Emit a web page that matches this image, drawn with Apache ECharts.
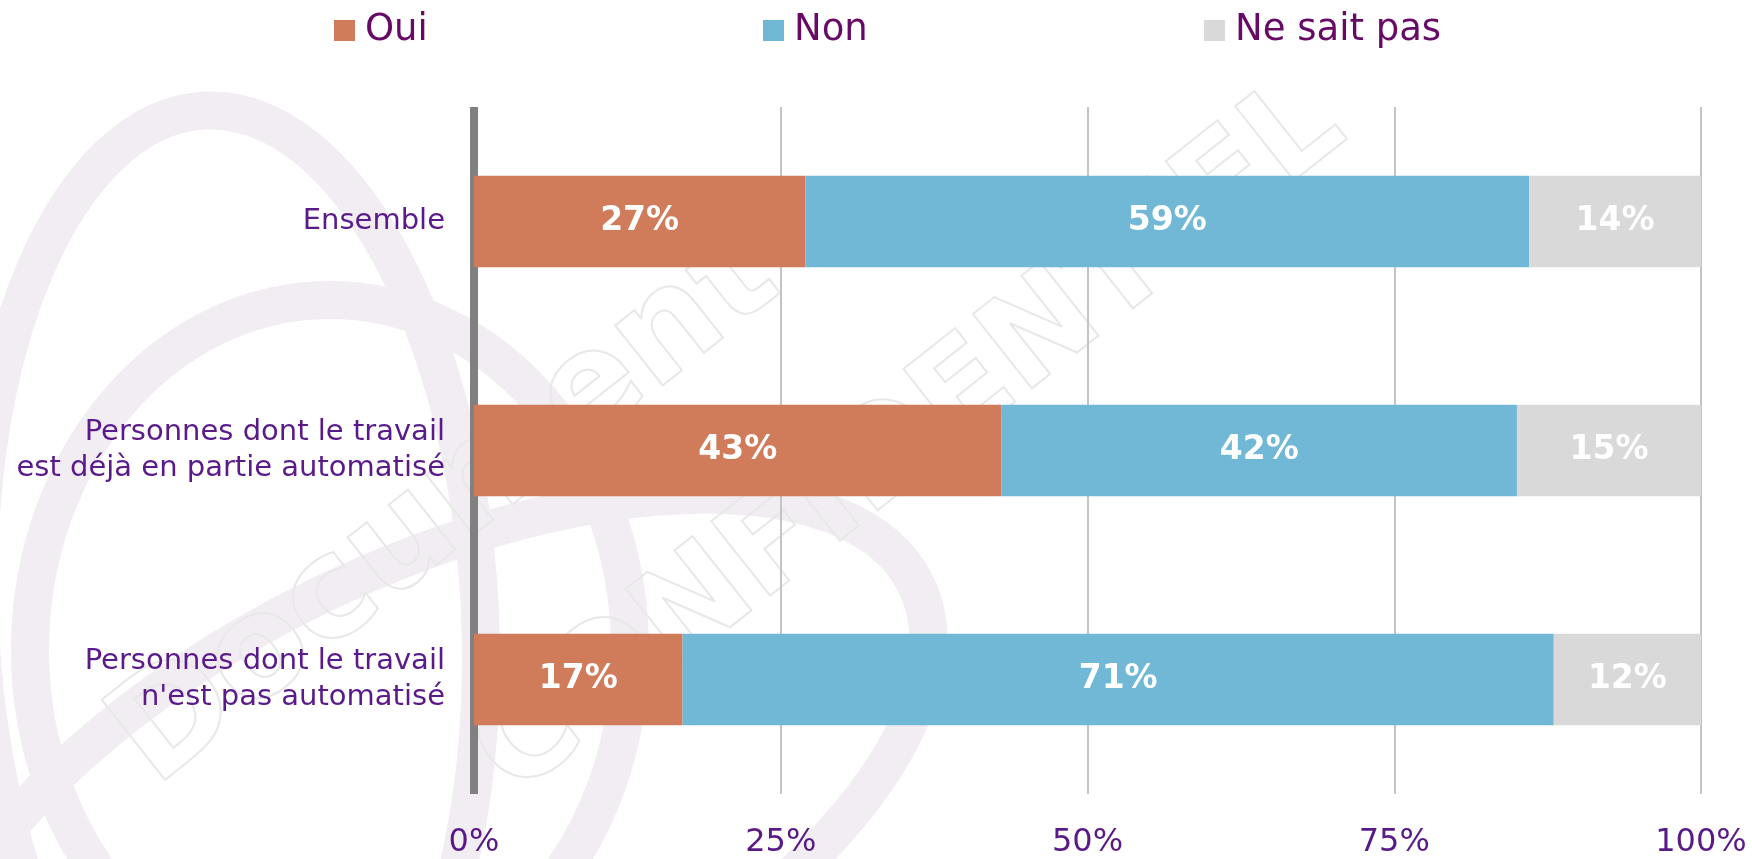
<!DOCTYPE html>
<html>
<head>
<meta charset="utf-8">
<title>Automatisation</title>
<script src="https://cdn.jsdelivr.net/npm/echarts@6/dist/echarts.min.js"></script>
<style>
  html, body { margin: 0; padding: 0; background: #fff; }
  #chart { width: 1752px; height: 859px; }
</style>
</head>
<body>
<div id="chart"></div>
<script>
var categories = [
  "Ensemble",
  "Personnes dont le travail\nest déjà en partie automatisé",
  "Personnes dont le travail\nn'est pas automatisé"
];
var seriesNames = ["Oui", "Non", "Ne sait pas"];
var ouiValues = [27, 43, 17];
var nonValues = [59, 42, 71];
var nspValues = [14, 15, 12];
var xTicks = [0, 25, 50, 75, 100];

var colors = ["#d07b5a", "#71b8d7", "#d9d9d9"];
var font = "DejaVu Sans, Verdana, sans-serif";

var chart = echarts.init(document.getElementById("chart"));

function legendAt(name, left) {
  return {
    data: [name],
    left: left,
    top: 12,
    padding: 0,
    itemWidth: 21,
    itemHeight: 21,
    icon: "rect",
    selectedMode: false,
    textStyle: {
      color: "#660a66",
      fontSize: 37,
      fontFamily: font,
      padding: [0, 0, 0, 5]
    }
  };
}

function barSeries(name, data, i) {
  return {
    name: name,
    type: "bar",
    stack: "total",
    barWidth: "40%",
    data: data,
    itemStyle: { color: colors[i] },
    label: {
      show: true,
      position: "inside",
      formatter: "{c}%",
      color: "#fff",
      fontSize: 33,
      fontWeight: "bold",
      fontFamily: font
    }
  };
}

// faint watermark behind the chart
var ring = "#f2edf3";
var watermark = [
  { type: "ellipse", x: 230, y: 620, rotation: 0.05, shape: { cx: 0, cy: 0, rx: 250, ry: 510 } },
  { type: "ellipse", x: 330, y: 650, rotation: 0, shape: { cx: 0, cy: 0, rx: 300, ry: 350 } },
  { type: "ellipse", x: 430, y: 820, rotation: 0.45, shape: { cx: 0, cy: 0, rx: 540, ry: 250 } }
].map(function (e) {
  e.z = -10;
  e.silent = true;
  e.style = { fill: "none", stroke: ring, lineWidth: 38 };
  return e;
});
watermark.push({
  type: "text", x: 447, y: 510, rotation: 0.67, z: -9, silent: true,
  style: {
    text: "Document", font: "bold 140px " + font, fill: "none",
    stroke: "#e8e8e8", lineWidth: 2, align: "center", verticalAlign: "middle"
  }
});
watermark.push({
  type: "text", x: 911, y: 441, rotation: 0.67, z: -9, silent: true,
  style: {
    text: "CONFIDENTIEL", font: "bold 130px " + font, fill: "none",
    stroke: "#e8e8e8", lineWidth: 2, align: "center", verticalAlign: "middle"
  }
});

var option = {
  animation: false,
  color: colors,
  graphic: watermark,
  legend: [
    legendAt(seriesNames[0], 334),
    legendAt(seriesNames[1], 763),
    legendAt(seriesNames[2], 1204)
  ],
  grid: {
    left: 474,
    right: 51,
    top: 107,
    bottom: 59,
    containLabel: false
  },
  xAxis: {
    type: "value",
    min: xTicks[0],
    max: xTicks[xTicks.length - 1],
    interval: 25,
    axisLine: { show: false },
    axisTick: { show: false },
    axisLabel: {
      formatter: "{value}%",
      color: "#5a1a86",
      fontSize: 32,
      fontFamily: font,
      margin: 33
    },
    splitLine: {
      show: true,
      lineStyle: { color: "#c4c4c4", width: 2 }
    }
  },
  yAxis: {
    type: "category",
    inverse: true,
    data: categories,
    axisLine: {
      show: true,
      lineStyle: { color: "#808080", width: 8, cap: "butt" }
    },
    axisTick: { show: false },
    axisLabel: {
      color: "#5a1a8a",
      fontSize: 29,
      lineHeight: 36,
      fontFamily: font,
      margin: 29,
      align: "right"
    }
  },
  series: [
    barSeries(seriesNames[0], ouiValues, 0),
    barSeries(seriesNames[1], nonValues, 1),
    barSeries(seriesNames[2], nspValues, 2)
  ]
};

chart.setOption(option);
</script>
</body>
</html>
